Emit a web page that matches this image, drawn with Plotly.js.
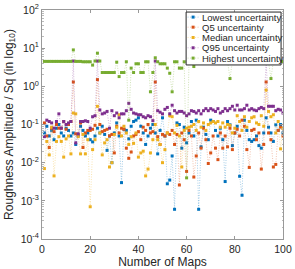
<!DOCTYPE html>
<html>
<head>
<meta charset="utf-8">
<script src="https://cdn.plot.ly/plotly-3.0.1.min.js"></script>
<style>html,body{margin:0;padding:0;background:#fff;}#chart{width:295px;height:269px;}</style>
</head>
<body>
<div id="chart"></div>
<script>
// x: map index 1..100
const mapIndex = Array.from({length: 100}, (_, i) => i + 1);

const seriesNames = ["Lowest uncertainty", "Q5 uncertainty", "Median uncertainty", "Q95 uncertainty", "Highest uncertainty"];

const lowest = [
  0.06, 0.09, 0.05, 0.07, 0.04, 0.08, 0.10, 0.06, 0.05, 0.08,
  0.07, 0.05, 0.06, 0.03, 0.05, 0.09, 0.07, 0.05, 0.06, 0.04,
  0.035, 0.05, 0.08, 0.06, 0.09, 0.055, 0.021, 0.05, 0.010, 0.06,
  0.11, 0.05, 0.003, 0.075, 0.07, 0.042, 0.09, 0.12, 0.13, 0.15,
  0.09, 0.06, 0.03, 0.05, 0.08, 0.10, 0.06, 0.017, 0.07, 0.15,
  0.05, 0.0028, 0.0035, 0.015, 0.0006, 0.11, 0.10, 0.024, 0.085, 0.033,
  0.06, 0.12, 0.05, 0.13, 0.0006, 0.026, 0.085, 0.055, 0.04, 0.13,
  0.12, 0.07, 0.05, 0.08, 0.04, 0.0032, 0.12, 0.098, 0.028, 0.06,
  0.09, 0.0044, 0.0014, 0.13, 0.07, 0.04, 0.036, 0.04, 0.05, 0.028,
  0.024, 0.06, 0.15, 0.085, 0.06, 0.036, 0.098, 0.07, 0.10, 0.06
];

const q5 = [
  0.11, 0.05, 0.025, 0.08, 0.065, 0.10, 0.08, 0.08, 0.12, 0.075,
  0.10, 0.12, 1.3, 0.057, 0.055, 0.11, 0.025, 0.06, 0.07, 0.07,
  0.075, 0.095, 1.5, 0.10, 0.065, 0.07, 0.075, 0.05, 0.055, 0.018,
  0.09, 0.06, 0.08, 0.075, 0.024, 0.013, 0.019, 0.05, 0.055, 0.065,
  0.04, 0.085, 0.07, 0.10, 0.06, 0.065, 1.3, 0.048, 0.03, 0.055,
  0.05, 0.06, 0.055, 0.07, 0.03, 0.055, 0.0026, 0.06, 0.04, 0.0059,
  0.07, 0.05, 0.0042, 0.015, 0.06, 0.024, 0.08, 0.04, 0.0095, 0.018,
  0.05, 0.024, 0.012, 0.06, 0.024, 0.05, 0.026, 0.08, 0.022, 0.06,
  0.075, 0.05, 0.13, 0.09, 0.022, 0.0075, 0.07, 0.075, 0.04, 0.06,
  0.0068, 0.03, 1.3, 0.06, 0.04, 0.0077, 0.009, 0.07, 0.085, 0.05
];

const median = [
  0.007, 0.036, 0.016, 0.085, 0.0045, 0.036, 0.048, 0.036, 0.014, 0.042,
  0.05, 0.017, 0.2, 0.19, 0.048, 0.017, 0.055, 0.017, 0.04, 0.0007,
  0.022, 0.04, 0.3, 0.06, 0.016, 0.033, 0.04, 0.0077, 0.01, 0.055,
  0.085, 0.18, 0.05, 0.09, 0.06, 0.03, 0.048, 0.032, 0.06, 0.014,
  0.018, 0.02, 0.0045, 0.0068, 0.018, 0.04, 0.1, 0.04, 0.03, 0.01,
  0.022, 0.06, 0.17, 0.16, 0.06, 0.095, 0.05, 0.0077, 0.07, 0.08,
  0.085, 0.09, 0.1, 0.07, 0.12, 0.085, 0.11, 0.07, 0.1, 0.11,
  0.12, 0.11, 0.12, 0.085, 0.11, 0.085, 0.1, 0.095, 0.06, 0.08,
  0.17, 0.12, 0.07, 0.16, 0.085, 0.12, 0.15, 0.16, 0.11, 0.1,
  0.17, 0.09, 0.8, 0.22, 0.16, 0.18, 0.06, 0.12, 0.023, 0.08
];

const q95 = [
  0.048, 0.13, 0.12, 0.11, 0.08, 0.12, 0.19, 0.08, 0.12, 0.10,
  0.11, 0.12, 4.6, 0.033, 0.057, 0.12, 0.12, 0.125, 0.12, 0.08,
  0.16, 0.17, 4.6, 0.24, 0.19, 0.2, 0.22, 0.08, 0.23, 0.17,
  0.2, 0.15, 0.19, 0.19, 0.23, 0.36, 0.25, 0.2, 0.19, 0.18,
  0.18, 0.16, 0.15, 0.17, 0.16, 0.126, 4.6, 0.23, 0.21, 0.19,
  0.25, 0.28, 0.19, 0.32, 0.23, 0.2, 0.22, 0.22, 0.2, 0.17,
  0.19, 0.23, 0.22, 0.2, 0.23, 0.19, 0.23, 0.26, 0.23, 0.26,
  0.24, 0.22, 0.26, 0.2, 0.22, 0.26, 0.23, 0.26, 0.3, 0.24,
  0.32, 0.24, 0.24, 0.26, 0.32, 0.24, 0.26, 0.24, 0.23, 0.26,
  0.28, 0.26, 4.2, 0.3, 0.3, 0.3, 0.23, 0.25, 0.24, 0.2
];

const highest = [
  4.5, 4.5, 4.5, 4.5, 4.5, 4.5, 4.5, 4.5, 4.5, 4.5,
  4.5, 4.5, 9.0, 4.5, 4.5, 4.5, 4.4, 4.4, 4.4, 4.4,
  3.6, 4.6, 7.4, 4.6, 2.3, 2.3, 2.3, 2.3, 2.3, 2.3,
  4.3, 1.8, 2.3, 2.3, 4.4, 0.13, 3.0, 2.3, 3.9, 3.9,
  2.3, 2.3, 4.4, 4.4, 0.72, 2.3, 5.6, 4.4, 3.9, 3.9,
  3.9, 3.0, 2.2, 0.72, 4.4, 4.4, 3.0, 3.0, 4.4, 0.004,
  4.5, 4.5, 3.3, 4.5, 4.5, 4.5, 4.5, 4.5, 4.5, 4.5,
  4.5, 4.5, 4.5, 4.5, 4.5, 4.5, 4.5, 1.6, 4.5, 4.5,
  4.5, 4.5, 4.5, 4.5, 4.5, 4.5, 4.5, 4.5, 4.5, 4.5,
  4.5, 4.5, 9.0, 4.5, 1.6, 4.5, 4.5, 4.5, 4.5, 4.5
];

const yTickVals = [1e-4, 1e-3, 1e-2, 1e-1, 1e0, 1e1, 1e2];
const yTickText = ["10<sup>-4</sup>", "10<sup>-3</sup>", "10<sup>-2</sup>", "10<sup>-1</sup>", "10<sup>0</sup>", "10<sup>1</sup>", "10<sup>2</sup>"];

const colors = ["#0072BD", "#D95319", "#EDB120", "#7E2F8E", "#77AC30"];
const lineColors = ["rgba(0,114,189,0.35)", "rgba(217,83,25,0.35)", "rgba(237,177,32,0.35)", "rgba(126,47,142,0.35)", "rgba(119,172,48,0.35)"];
const allSeries = [lowest, q5, median, q95, highest];
const dotDash = '1px,1.5px';

const traces = allSeries.map((vals, k) => ({
  x: mapIndex,
  y: vals,
  name: seriesNames[k],
  type: 'scatter',
  mode: 'lines+markers',
  showlegend: false,
  line: {color: lineColors[k], width: 1, dash: dotDash},
  marker: {color: colors[k], size: 3, symbol: 'square'}
}));

const minorVals = [];
for (let e = -4; e < 2; e++) {
  for (let m = 2; m <= 9; m++) minorVals.push(m * Math.pow(10, e));
}

// Legend (drawn with paper-anchored shapes and annotations)
const legBox = {x0: 0.598, x1: 0.992, y0: 0.760, y1: 0.991};
const legRowY = [0.969, 0.925, 0.880, 0.835, 0.790];
const legSymX = 0.627, legLineX0 = 0.604, legLineX1 = 0.650, legTextX = 0.655;

const shapes = [{
  type: 'rect', xref: 'paper', yref: 'paper',
  x0: legBox.x0, x1: legBox.x1, y0: legBox.y0, y1: legBox.y1,
  fillcolor: '#fff', line: {color: '#262626', width: 1}, layer: 'above'
}];
const annotations = [];
seriesNames.forEach((nm, k) => {
  shapes.push({
    type: 'line', xref: 'paper', yref: 'paper',
    x0: legLineX0, x1: legLineX1, y0: legRowY[k], y1: legRowY[k],
    line: {color: lineColors[k], width: 1, dash: dotDash}, layer: 'above'
  });
  shapes.push({
    type: 'rect', xref: 'paper', yref: 'paper',
    xsizemode: 'pixel', ysizemode: 'pixel',
    xanchor: legSymX, yanchor: legRowY[k],
    x0: -1.5, x1: 1.5, y0: -1.5, y1: 1.5,
    fillcolor: colors[k], line: {width: 0}, layer: 'above'
  });
  annotations.push({
    xref: 'paper', yref: 'paper', x: legTextX, y: legRowY[k],
    xanchor: 'left', yanchor: 'middle', showarrow: false,
    text: nm, font: {size: 9.5, color: '#262626'}
  });
});

const layout = {
  width: 295, height: 269,
  margin: {l: 42, r: 12, t: 10, b: 30},
  paper_bgcolor: '#fff', plot_bgcolor: '#fff',
  font: {family: 'Liberation Sans, Arial, sans-serif', size: 10, color: '#262626'},
  showlegend: false,
  shapes: shapes,
  annotations: annotations,
  xaxis: {
    range: [0, 100], dtick: 20, ticks: 'inside', ticklen: 3,
    showline: true, mirror: 'ticks', linecolor: '#999', tickcolor: '#999',
    showgrid: false, zeroline: false,
    tickfont: {size: 10.5, color: '#262626'},
    title: {text: 'Number of Maps', font: {size: 12, color: '#262626'}, standoff: 2}
  },
  yaxis: {
    type: 'log', range: [-4, 2],
    tickvals: yTickVals, ticktext: yTickText,
    ticks: 'inside', ticklen: 3,
    minor: {tickvals: minorVals, ticks: 'inside', ticklen: 1.5, tickcolor: '#bbb', showgrid: false},
    showline: true, mirror: 'ticks', linecolor: '#999', tickcolor: '#999',
    showgrid: false, zeroline: false,
    tickfont: {size: 10.5, color: '#262626'},
    title: {text: 'Roughness Amplitude / Sq (in log<sub>10</sub>)', font: {size: 12, color: '#262626'}, standoff: 4}
  }
};

Plotly.newPlot('chart', traces, layout, {displayModeBar: false, staticPlot: true});
</script>
</body>
</html>
